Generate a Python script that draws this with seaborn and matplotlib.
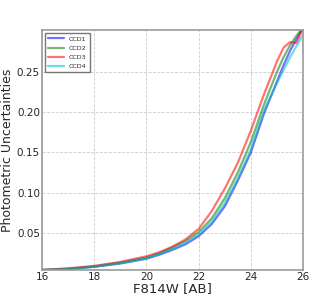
import numpy as np
import pandas as pd
import matplotlib
matplotlib.use('Agg')
import matplotlib.pyplot as plt
import seaborn as sns

# magnitude grid and photometric uncertainties per CCD
mag = [16, 17, 18, 19, 20, 20.5, 21, 21.5, 22, 22.5, 23, 23.5, 24, 24.5, 25, 25.25, 25.5, 25.75, 26]
ccd1 = [0.004, 0.005, 0.008, 0.012, 0.018, 0.023, 0.029, 0.036, 0.046, 0.061, 0.083, 0.115, 0.150,
        0.198, 0.238, 0.258, 0.276, 0.291, 0.305]
ccd2 = [0.004, 0.0055, 0.0085, 0.013, 0.0195, 0.025, 0.032, 0.040, 0.051, 0.068, 0.093, 0.125, 0.163,
        0.209, 0.250, 0.268, 0.283, 0.295, 0.305]
ccd3 = [0.004, 0.006, 0.009, 0.014, 0.021, 0.026, 0.033, 0.042, 0.055, 0.077, 0.105, 0.137, 0.177,
        0.222, 0.263, 0.280, 0.287, 0.286, 0.305]
ccd4 = [0.004, 0.005, 0.008, 0.0125, 0.0185, 0.024, 0.030, 0.038, 0.048, 0.064, 0.087, 0.118, 0.154,
        0.202, 0.236, 0.252, 0.268, 0.282, 0.296]
names = ['CCD1', 'CCD2', 'CCD3', 'CCD4']
colors = ['b', 'g', 'r', 'c']

df = pd.concat([pd.DataFrame({'mag': mag, 'err': v, 'ccd': n})
                for n, v in zip(names, [ccd1, ccd2, ccd3, ccd4])])

sns.set_style('white')
plt.rcParams['font.family'] = ['DejaVu Sans']

fig = plt.figure(figsize=(3.36, 3.03), dpi=100)
ax = fig.add_axes([0.125, 0.109, 0.777, 0.792])
sns.lineplot(data=df, x='mag', y='err', hue='ccd', palette=colors,
             linewidth=1.6, alpha=0.55, ax=ax, sort=False)

ax.set_xlim(16, 26)
ax.set_ylim(0.004, 0.302)
ax.set_xticks(np.arange(16, 27, 2))
ax.set_yticks([0.05, 0.10, 0.15, 0.20, 0.25])
ax.grid(True, linestyle='--', color='#cccccc', linewidth=0.6)
ax.tick_params(labelsize=7.5, direction='in', length=3, color='#555555', pad=1.5)
for s in ax.spines.values():
    s.set_color('#999999')
    s.set_linewidth(1.2)
ax.set_xlabel('F814W [AB]', fontsize=9.5, labelpad=0)
ax.set_ylabel('Photometric Uncertainties', fontsize=9, labelpad=2)
ax.legend(loc='upper left', fontsize=4.5, frameon=True, fancybox=False,
          edgecolor='#555555', handlelength=2.5, borderpad=0.5, labelspacing=0.6)

fig.savefig('out.png', dpi=100)
